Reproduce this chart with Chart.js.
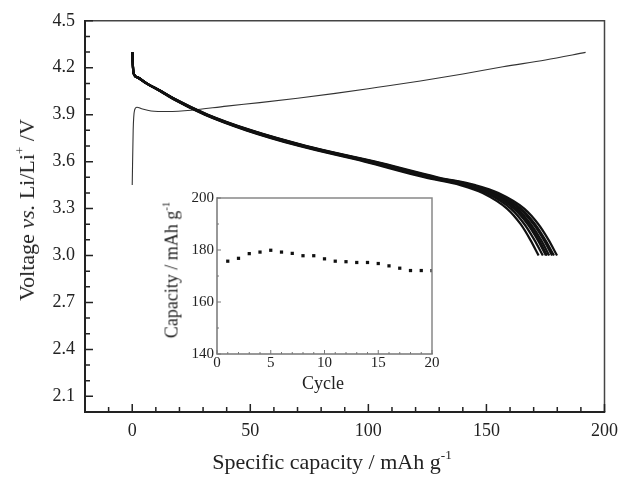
<!DOCTYPE html>
<html>
<head>
<meta charset="utf-8">
<script src="https://cdn.jsdelivr.net/npm/chart.js@4/dist/chart.umd.min.js"></script>
<style>
  body { margin: 0; background: #fff; }
  #wrap { position: relative; width: 626px; height: 479px; font-family: "Liberation Serif", serif; color: #222; }
  #mainBox { position: absolute; left: 0; top: 0; width: 626px; height: 479px; }
  #insetBox { position: absolute; left: 150px; top: 185px; width: 300px; height: 215px; }
  .lbl { position: absolute; white-space: nowrap; transform: translate(-50%, -50%); }
  .rot { transform: translate(-50%, -50%) rotate(-90deg); }
  sup { font-size: 0.6em; vertical-align: 0.75em; line-height: 0; }
</style>
</head>
<body>
<div id="wrap">
  <div id="mainBox"><canvas id="mainChart"></canvas></div>
  <div id="insetBox"><canvas id="insetChart"></canvas></div>
  <div class="lbl" style="left:332px; top:462px; font-size:22px;">Specific capacity / mAh g<sup>-1</sup></div>
  <div class="lbl rot" style="left:27px; top:210px; font-size:22px;">Voltage <i>vs.</i> Li/Li<sup>+</sup> /V</div>
  <div class="lbl" style="left:323px; top:383px; font-size:18px;">Cycle</div>
  <div class="lbl rot" style="left:172px; top:270px; font-size:18px;">Capacity / mAh g<sup>-1</sup></div>
</div>
<script>
// Main plot: tick labels
const xTickValues = [0, 50, 100, 150, 200];
const yTickValues = [2.1, 2.4, 2.7, 3.0, 3.3, 3.6, 3.9, 4.2, 4.5];
const xMinorTicks = [-10, 10, 20, 30, 40, 60, 70, 80, 90, 110, 120, 130, 140, 160, 170, 180, 190];
const yMinorTicks = [2.2, 2.3, 2.5, 2.6, 2.8, 2.9, 3.1, 3.2, 3.4, 3.5, 3.7, 3.8, 4.0, 4.1, 4.3, 4.4];

// Charge curve (first cycle)
const chargeCap = [0, 0.4, 1.0, 2.0, 4, 8, 15, 25, 40, 54, 70, 86, 104, 122, 140, 157, 175, 192];
const chargeVolt = [3.45, 3.80, 3.93, 3.948, 3.938, 3.924, 3.92, 3.928, 3.955, 3.977, 4.005, 4.036, 4.075, 4.115, 4.16, 4.206, 4.25, 4.298];

// Discharge curves: capacity reached at each voltage level, for several cycles
const dischargeVolt = [4.30, 4.17, 4.14, 4.10, 4.05, 4.00, 3.90, 3.80, 3.70, 3.60, 3.50, 3.45, 3.40, 3.30, 3.20, 3.10, 3.00];
const dischargeCap1 = [0, 0.5, 2.0, 6.1, 12.1, 17.7, 31.3, 49.3, 72.2, 100.5, 126.3, 141.9, 151.5, 162.1, 168.0, 172.2, 175.7];
const dischargeCap3 = [0, 0.5, 2.1, 6.2, 12.3, 18.0, 31.8, 50.1, 73.4, 102.1, 128.3, 144.2, 153.9, 164.7, 170.6, 174.9, 178.6];
const dischargeCap5 = [0, 0.5, 2.1, 6.2, 12.4, 18.1, 32.1, 50.5, 73.9, 102.9, 129.3, 145.3, 155.1, 166.0, 172.0, 176.3, 179.9];
const dischargeCap8 = [0, 0.5, 2.0, 6.1, 12.3, 17.9, 31.7, 49.9, 73.1, 101.7, 127.8, 143.6, 153.3, 164.0, 170.0, 174.3, 177.8];
const dischargeCap10 = [0, 0.5, 2.0, 6.1, 12.2, 17.8, 31.5, 49.5, 72.6, 101.0, 126.9, 142.6, 152.3, 162.9, 168.8, 173.1, 176.6];
const dischargeCap13 = [0, 0.5, 2.0, 6.0, 12.1, 17.6, 31.2, 49.1, 72.0, 100.2, 125.9, 141.5, 151.1, 161.6, 167.5, 171.7, 175.2];
const dischargeCap16 = [0, 0.5, 2.0, 6.0, 12.0, 17.5, 31.0, 48.8, 71.4, 99.4, 124.9, 140.4, 149.9, 160.3, 166.1, 170.3, 173.9];
const dischargeCap20 = [0, 0.5, 2.0, 5.9, 11.9, 17.3, 30.7, 48.3, 70.7, 98.4, 123.6, 139.0, 148.4, 158.7, 164.5, 168.6, 172.1];
const dischargeSets = [dischargeCap1, dischargeCap3, dischargeCap5, dischargeCap8, dischargeCap10, dischargeCap13, dischargeCap16, dischargeCap20];

// Inset: discharge capacity per cycle
const cycles = [1, 2, 3, 4, 5, 6, 7, 8, 9, 10, 11, 12, 13, 14, 15, 16, 17, 18, 19, 20];
const capacity = [175.7, 176.8, 178.6, 179.2, 179.9, 179.2, 178.7, 177.8, 177.8, 176.6, 175.7, 175.5, 175.2, 175.2, 174.8, 173.9, 173.0, 172.1, 172.1, 172.1];
const insetXTicks = [0, 5, 10, 15, 20];
const insetYTicks = [140, 160, 180, 200];
const insetXMinor = [1, 2, 3, 4, 6, 7, 8, 9, 11, 12, 13, 14, 16, 17, 18, 19];
const insetYMinor = [150, 170, 190];

// draws the frame and inward tick marks using the chart's own scales
function framePlugin(o) {
  return {
    id: 'frame',
    afterDraw(chart) {
      const c = chart.ctx, a = chart.chartArea;
      const xs = chart.scales.x, ys = chart.scales.y;
      c.save();
      c.lineCap = 'butt';
      // top & right
      c.strokeStyle = o.edgeColor;
      c.lineWidth = o.edgeWidth;
      c.beginPath();
      c.moveTo(a.left, a.top); c.lineTo(a.right, a.top); c.lineTo(a.right, a.bottom);
      c.stroke();
      // left & bottom axis lines
      c.strokeStyle = o.axisColor;
      c.lineWidth = o.axisWidth;
      c.beginPath();
      c.moveTo(a.left, a.top - o.edgeWidth / 2); c.lineTo(a.left, a.bottom); c.lineTo(a.right + o.edgeWidth / 2, a.bottom);
      c.stroke();
      // ticks
      c.lineWidth = o.tickWidth;
      c.beginPath();
      o.xMajor.forEach(v => { const p = xs.getPixelForValue(v); c.moveTo(p, a.bottom); c.lineTo(p, a.bottom - o.major); });
      o.xMinor.forEach(v => { const p = xs.getPixelForValue(v); c.moveTo(p, a.bottom); c.lineTo(p, a.bottom - o.minor); });
      o.yMajor.forEach(v => { const p = ys.getPixelForValue(v); c.moveTo(a.left, p); c.lineTo(a.left + o.major, p); });
      o.yMinor.forEach(v => { const p = ys.getPixelForValue(v); c.moveTo(a.left, p); c.lineTo(a.left + o.minor, p); });
      c.stroke();
      c.restore();
    }
  };
}

const serif = 'Liberation Serif';

// build line datasets
const datasets = dischargeSets.map(caps => ({
  data: caps.map((x, i) => ({ x: x, y: dischargeVolt[i] })),
  borderColor: '#111',
  borderWidth: 2.2,
  pointRadius: 0,
  cubicInterpolationMode: 'monotone'
}));
datasets.push({
  data: chargeCap.map((x, i) => ({ x: x, y: chargeVolt[i] })),
  borderColor: '#333',
  borderWidth: 1.1,
  pointRadius: 0,
  cubicInterpolationMode: 'monotone'
});

new Chart(document.getElementById('mainChart').getContext('2d'), {
  type: 'line',
  data: { datasets: datasets },
  options: {
    responsive: true,
    maintainAspectRatio: false,
    animation: false,
    layout: { padding: { left: 0, top: 19, right: 14, bottom: 0 } },
    plugins: { legend: { display: false }, tooltip: { enabled: false } },
    scales: {
      x: {
        type: 'linear',
        min: -20,
        max: 200,
        afterBuildTicks: s => { s.ticks = xTickValues.map(v => ({ value: v })); },
        afterFit: s => { s.height = 67; },
        grid: { display: false, drawTicks: false },
        border: { display: false },
        ticks: { padding: 8, color: '#222', font: { family: serif, size: 18 }, maxRotation: 0 }
      },
      y: {
        type: 'linear',
        min: 2.0,
        max: 4.5,
        afterBuildTicks: s => { s.ticks = yTickValues.map(v => ({ value: v })); },
        afterFit: s => { s.width = 85; },
        grid: { display: false, drawTicks: false },
        border: { display: false },
        ticks: { padding: 10, color: '#222', font: { family: serif, size: 18 }, callback: v => v.toFixed(1) }
      }
    }
  },
  plugins: [framePlugin({
    edgeColor: '#444', edgeWidth: 1.5, axisColor: '#222', axisWidth: 2, tickWidth: 1.5,
    major: 8, minor: 5,
    xMajor: xTickValues, xMinor: xMinorTicks, yMajor: yTickValues, yMinor: yMinorTicks
  })]
});

new Chart(document.getElementById('insetChart').getContext('2d'), {
  type: 'scatter',
  data: {
    datasets: [{
      data: cycles.map((c, i) => ({ x: c, y: capacity[i] })),
      pointStyle: 'rect',
      pointRadius: 2.3,
      backgroundColor: '#111',
      borderColor: '#111',
      borderWidth: 0
    }]
  },
  options: {
    responsive: true,
    maintainAspectRatio: false,
    animation: false,
    layout: { padding: { left: 0, top: 13, right: 18, bottom: 0 } },
    plugins: { legend: { display: false }, tooltip: { enabled: false } },
    scales: {
      x: {
        type: 'linear',
        min: 0,
        max: 20,
        afterBuildTicks: s => { s.ticks = insetXTicks.map(v => ({ value: v })); },
        afterFit: s => { s.height = 46; },
        grid: { display: false, drawTicks: false },
        border: { display: false },
        ticks: { padding: 0, color: '#222', font: { family: serif, size: 15 }, maxRotation: 0 }
      },
      y: {
        type: 'linear',
        min: 140,
        max: 200,
        afterBuildTicks: s => { s.ticks = insetYTicks.map(v => ({ value: v })); },
        afterFit: s => { s.width = 67; },
        grid: { display: false, drawTicks: false },
        border: { display: false },
        ticks: { padding: 3, color: '#222', font: { family: serif, size: 15 } }
      }
    }
  },
  plugins: [framePlugin({
    edgeColor: '#888', edgeWidth: 1.5, axisColor: '#777', axisWidth: 1.5, tickWidth: 1,
    major: 4, minor: 2,
    xMajor: insetXTicks, xMinor: insetXMinor, yMajor: insetYTicks, yMinor: insetYMinor
  })]
});
</script>
</body>
</html>
